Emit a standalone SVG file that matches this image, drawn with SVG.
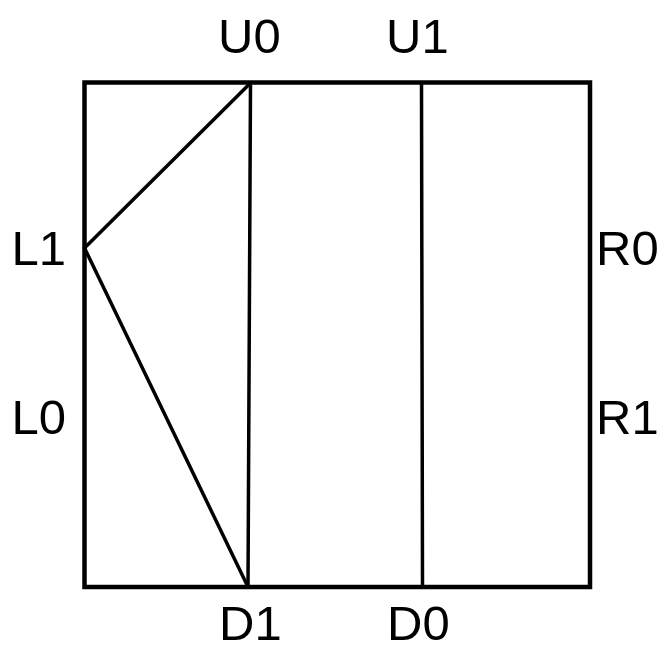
<svg xmlns="http://www.w3.org/2000/svg" width="667" height="651" viewBox="0 0 667 651">
<style>
.lbl{font-family:"Liberation Sans",Arial,sans-serif;font-size:49px;fill:#000}
.edge{stroke:#000;stroke-width:3.5;fill:none;stroke-linecap:round}
</style>
<rect width="667" height="651" fill="#fff"/>
<g id="frame"><rect x="84.5" y="82.5" width="505.5" height="504.5" fill="none" stroke="#000" stroke-width="4.5"/></g>
<g id="connectors">
<line class="edge" x1="250.5" y1="83" x2="248" y2="587"/>
<line class="edge" x1="421.5" y1="83" x2="422.5" y2="587"/>
<line class="edge" x1="84.5" y1="248" x2="250.5" y2="83"/>
<line class="edge" x1="84.5" y1="248" x2="248" y2="587"/>
</g>
<g id="U0"><text class="lbl" x="218" y="53">U0</text></g>
<g id="U1"><text class="lbl" x="386" y="53">U1</text></g>
<g id="L1"><text class="lbl" x="11.5" y="265">L1</text></g>
<g id="R0"><text class="lbl" x="596" y="265">R0</text></g>
<g id="L0"><text class="lbl" x="11.5" y="434">L0</text></g>
<g id="R1"><text class="lbl" x="596" y="434">R1</text></g>
<g id="D1"><text class="lbl" x="219" y="640">D1</text></g>
<g id="D0"><text class="lbl" x="387" y="640">D0</text></g>
</svg>
